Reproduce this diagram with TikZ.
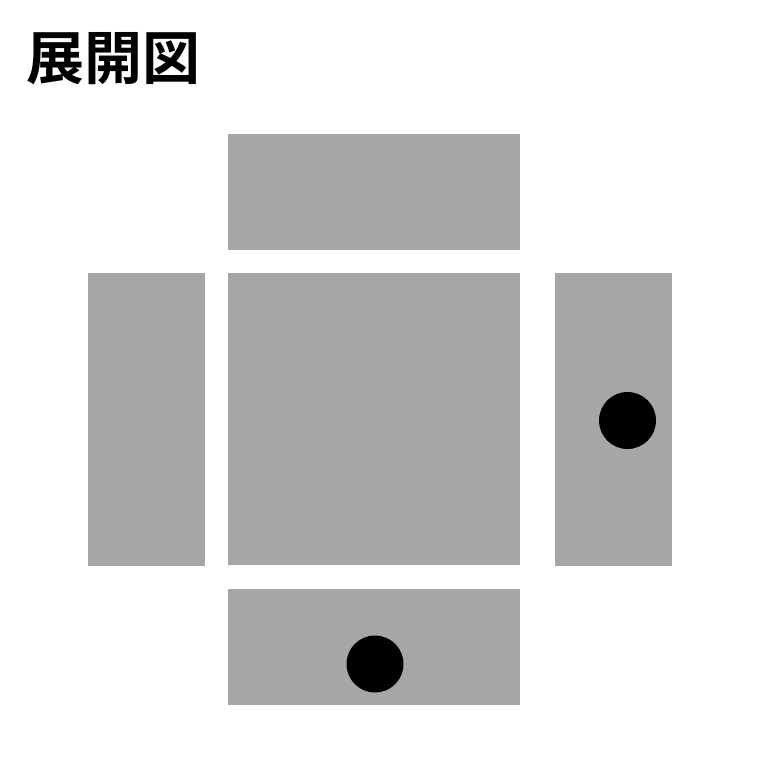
\documentclass[tikz,border=0pt]{standalone}
\usepackage{fontspec}
\newfontfamily\jpfont{Noto Sans CJK JP}[BoldFont={Noto Sans CJK JP Bold}]
\definecolor{facegray}{HTML}{A6A6A6}

\begin{document}
\begin{tikzpicture}[x=1pt, y=-1pt, face/.style={fill=facegray, draw=none, inner sep=0, anchor=north west}, hole/.style={fill=black, circle, inner sep=0, minimum size=57pt}]
		\useasboundingbox (0,0) rectangle (760,760);
		\node[inner sep=0, anchor=base west] (title) at (26,79) {\jpfont\bfseries\fontsize{58pt}{60pt}\selectfont 展開図};

		\node[face, minimum width=292pt, minimum height=292pt] (center) at (228,273) {};
		\node[face, minimum width=292pt, minimum height=116pt] (top) at (228,134) {};
		\node[face, minimum width=292pt, minimum height=116pt] (bottom) at (228,589) {};
		\node[face, minimum width=117pt, minimum height=293pt] (left) at (88,273) {};
		\node[face, minimum width=117pt, minimum height=293pt] (right) at (555,273) {};

		\node[hole] (hole1) at (627.5,420.5) {};
		\node[hole] (hole2) at (375,664) {};
	\end{tikzpicture}
\end{document}
